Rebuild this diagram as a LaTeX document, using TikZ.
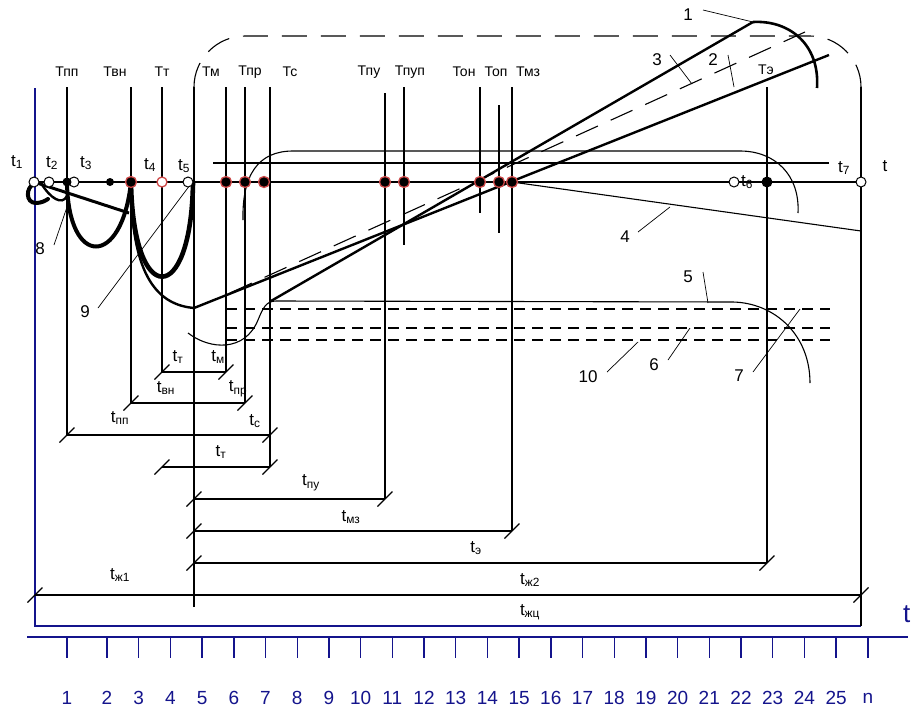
\documentclass[tikz,border=0pt]{standalone}
\usepackage{fontspec}
\setmainfont{Liberation Sans}
\definecolor{axblue}{RGB}{20,20,140}
\definecolor{ringred}{RGB}{205,70,70}
\begin{document}
\begin{tikzpicture}[x=1pt,y=-1pt,
 ln/.style={line width=1.1pt},
 thk/.style={line width=4pt},
 mid/.style={line width=2.4pt},
 lead/.style={line width=0.7pt},
 frame/.style={line width=1.1pt, dash pattern=on 25pt off 14pt},
 dsh/.style={line width=1.1pt, dash pattern=on 11pt off 7pt},
 blu/.style={draw=axblue, line width=1.4pt},
 Tlab/.style={font=\fontsize{14}{16}\selectfont, inner sep=0pt},
 tlab/.style={font=\fontsize{17}{20}\selectfont, inner sep=0pt},
 nlab/.style={font=\fontsize{19}{22}\selectfont, inner sep=0pt, text=axblue},
 oc/.style={circle, draw, fill=white, line width=1pt, minimum size=10pt, inner sep=0pt},
 oredc/.style={circle, draw=ringred, fill=white, line width=1.3pt, minimum size=10pt, inner sep=0pt},
 rc/.style={circle, draw=ringred, fill=black, line width=1.3pt, minimum size=11pt, inner sep=0pt},
 fc/.style={circle, fill=black, minimum size=#1, inner sep=0pt},
 fc/.default=9pt,
 slashmark/.pic={\draw[ln] (-7.5,7.5) -- (7.5,-7.5);}
]
\useasboundingbox (0,0) rectangle (913,710);

% ---------- key points ----------
\coordinate (p1) at (34,182);  \coordinate (p2) at (49,182);
\coordinate (p3f) at (67,182); \coordinate (p3) at (74,182);
\coordinate (p4f) at (110,182);\coordinate (pvn) at (131,182);
\coordinate (p4) at (162,182); \coordinate (p5) at (188,182);
\coordinate (pm) at (226,182); \coordinate (ppr) at (245,182);
\coordinate (pc) at (264,182); \coordinate (ppu) at (385,182);
\coordinate (ppup) at (404,182); \coordinate (pon) at (480,182);
\coordinate (pop) at (499,182); \coordinate (pmz) at (512,182);
\coordinate (p6) at (734,182); \coordinate (pe) at (767,182);
\coordinate (pt) at (861,182);
\coordinate (A0) at (194,308); \coordinate (A1) at (829,55);
\coordinate (B0) at (271,301); \coordinate (B1) at (753,22);
\coordinate (D0) at (230,293); \coordinate (D1) at (805,32);
\coordinate (L4) at (861,231);

% ---------- blue axes ----------
\draw[blu] (35,88) -- (35,626) -- (861,626);
\draw[blu] (27,637) -- (908,637);
\foreach \x/\n in {67/1,107/2,138.7/3,170.4/4,202.1/5,233.8/6,265.5/7,297.2/8,328.9/9,360.6/10,392.3/11,424/12,455.7/13,487.4/14,519.1/15,550.8/16,582.5/17,614.2/18,645.9/19,677.6/20,709.3/21,741/22,772.7/23,804.4/24,836.1/25,867.8/n}{
  \draw[blu] (\x,637) -- (\x,658);
  \node[nlab] (num\n) at (\x,698) {\n};
}
\node[anchor=base west, inner sep=0pt, font=\fontsize{26}{28}\selectfont, text=axblue] (tax) at (903,622) {t};

% ---------- vertical T lines ----------
\draw[ln] (67,87) -- (67,435);
\draw[ln] (131,87) -- (131,403);
\draw[ln] (162,87) -- (162,372);
\draw[ln] (226,87) -- (226,372);
\draw[ln] (245,87) -- (245,403);
\draw[ln] (270,87) -- (270,467);
\draw[ln] (385,93) -- (385,499);
\draw[ln] (404,87) -- (404,245);
\draw[ln] (480,87) -- (480,213);
\draw[ln] (499,105) -- (499,233);
\draw[ln] (512,87) -- (512,531);
\draw[ln] (767,87) -- (767,563);
\draw[ln] (194,607) -- (194,87);
\draw[ln] (861,87) -- (861,626);
\draw[frame] (194,87) .. controls (194,59) and (217,36) .. (245,36) -- (810,36) .. controls (838,36) and (861,59) .. (861,87);

% ---------- horizontal lines ----------
\draw[ln] (p1) -- (pt);
\draw[ln] (213,163) -- (829,163);
\draw[ln] (243,220) .. controls (242,175) and (258,151) .. (293,151) -- (740,151) .. controls (775,151) and (800,175) .. (798,213);
\draw[ln] (pmz) -- (L4);

% ---------- dashed lines 6, 7, 10 ----------
\draw[dsh] (226,309) -- (830,309);
\draw[dsh] (226,328) -- (830,328);
\draw[dsh] (226,340) -- (830,340);

% ---------- curve 5 ----------
\draw[ln] (188,333) .. controls (210,350) and (245,352) .. (258,320) .. controls (263,308) and (266,301) .. (276,301) -- (733,302) .. controls (775,303) and (810,335) .. (810,383);

% ---------- rising lines 1,2,3 ----------
\draw[line width=2.4pt] (A0) -- (A1);
\draw[line width=2.4pt] (B0) -- (B1);
\draw[line width=1.1pt, dash pattern=on 24pt off 14pt] (D0) -- (D1);
\draw[line width=2.6pt] (B1) .. controls (790,20) and (820,45) .. (817,88);

% ---------- thick curves at start ----------
\draw[thk, line cap=round] (34,184) .. controls (26,187) and (25,203) .. (36,203) .. controls (41,203) and (45,201) .. (48,199);
\draw[mid] (41,183) .. controls (50,198) and (62,206) .. (67,196);
\draw[line width=3pt] (p1) -- (129,213);
\draw[thk] (p3f) .. controls (68,268) and (122,268) .. (pvn);
\draw[line width=4.6pt] (pvn) .. controls (133,308) and (191,308) .. (193,183);
\draw[mid] (pvn) .. controls (131,280) and (160,305) .. (A0);

% ---------- dimension lines ----------
\foreach \xa/\xb/\yy in {162/226/372, 131/245/403, 67/270/435, 162/270/467, 194/385/499, 194/512/531, 194/767/563, 35/861/595}{
  \draw[ln] (\xa,\yy) -- (\xb,\yy);
  \pic at (\xa,\yy) {slashmark};
  \pic at (\xb,\yy) {slashmark};
}

% ---------- leaders ----------
\draw[lead] (703,10) -- (B1);
\draw[lead] (728,55) -- (734,87);
\draw[lead] (670,55) -- (692,84);
\draw[lead] (638,232) -- (670,207);
\draw[lead] (703,272) -- (708,303);
\draw[lead] (668,360) -- (690,328);
\draw[lead] (753,372) -- (800,309);
\draw[lead] (54,245) -- (67,207);
\draw[lead] (98,308) -- (190,185);
\draw[lead] (607,372) -- (638,342);

% ---------- dots ----------
\node[oc] (c1) at (p1) {};
\node[oc] (c2) at (p2) {};
\node[oc] (c3) at (p3) {};
\node[fc] (f3) at (p3f) {};
\node[fc=8pt] (f4) at (p4f) {};
\node[rc] (r1) at (pvn) {};
\node[oredc] (o4) at (p4) {};
\node[oc] (c5) at (p5) {};
\node[rc] (r2) at (pm) {};
\node[rc] (r3) at (ppr) {};
\node[rc] (r4) at (pc) {};
\node[rc] (r5) at (ppu) {};
\node[rc] (r6) at (ppup) {};
\node[rc] (r7) at (pon) {};
\node[rc] (r8) at (pop) {};
\node[rc] (r9) at (pmz) {};
\node[oc] (c6) at (p6) {};
\node[fc=11pt] (f6) at (pe) {};
\node[oc] (ct) at (pt) {};

% ---------- T labels ----------
\node[Tlab] (lTpp) at (67,72) {Тпп};
\node[Tlab] (lTvn) at (115,72) {Твн};
\node[Tlab] (lTt) at (162,72) {Тт};
\node[Tlab] (lTm) at (211,72) {Тм};
\node[Tlab] (lTpr) at (250,72) {Тпр};
\node[Tlab] (lTs) at (290,72) {Тс};
\node[Tlab] (lTpu) at (369,72) {Тпу};
\node[Tlab] (lTpup) at (410,72) {Тпуп};
\node[Tlab] (lTon) at (464,72) {Тон};
\node[Tlab] (lTop) at (496,72) {Топ};
\node[Tlab] (lTmz) at (528,72) {Тмз};
\node[Tlab] (lTe) at (766,70) {Тэ};

% ---------- t labels on axis ----------
\node[tlab] (lt1) at (17,162) {t\textsubscript{1}};
\node[tlab] (lt2) at (52,163) {t\textsubscript{2}};
\node[tlab] (lt3) at (86,163) {t\textsubscript{3}};
\node[tlab] (lt4) at (150,165) {t\textsubscript{4}};
\node[tlab] (lt5) at (184,166) {t\textsubscript{5}};
\node[tlab, anchor=west] (lt6) at (741,182) {t\textsubscript{6}};
\node[tlab] (lt7) at (844,168) {t\textsubscript{7}};
\node[tlab] (ltt) at (885,166) {t};

% ---------- number labels ----------
\node[tlab] (n1) at (688,15) {1};
\node[tlab] (n2) at (713,60) {2};
\node[tlab] (n3) at (657,60) {3};
\node[tlab] (n4) at (625,237) {4};
\node[tlab] (n5) at (688,277) {5};
\node[tlab] (n6) at (654,365) {6};
\node[tlab] (n7) at (739,376) {7};
\node[tlab] (n8) at (40,249) {8};
\node[tlab] (n9) at (85,312) {9};
\node[tlab] (n10) at (588,377) {10};

% ---------- dimension labels ----------
\node[tlab] (dt1) at (178,357) {t\textsubscript{т}};
\node[tlab] (dtm) at (218,357) {t\textsubscript{м}};
\node[tlab] (dtvn) at (166,388) {t\textsubscript{вн}};
\node[tlab] (dtpr) at (238,389) {t\textsubscript{пр}};
\node[tlab] (dtpp) at (120,418) {t\textsubscript{пп}};
\node[tlab] (dts) at (255,421) {t\textsubscript{с}};
\node[tlab] (dt2) at (221,452) {t\textsubscript{т}};
\node[tlab] (dtpu) at (311,483) {t\textsubscript{пу}};
\node[tlab] (dtmz) at (351,517) {t\textsubscript{мз}};
\node[tlab] (dte) at (476,548) {t\textsubscript{э}};
\node[tlab] (dtzh1) at (120,575) {t\textsubscript{ж1}};
\node[tlab] (dtzh2) at (530,580) {t\textsubscript{ж2}};
\node[tlab] (dtzhc) at (530,612) {t\textsubscript{жц}};
\end{tikzpicture}
\end{document}
